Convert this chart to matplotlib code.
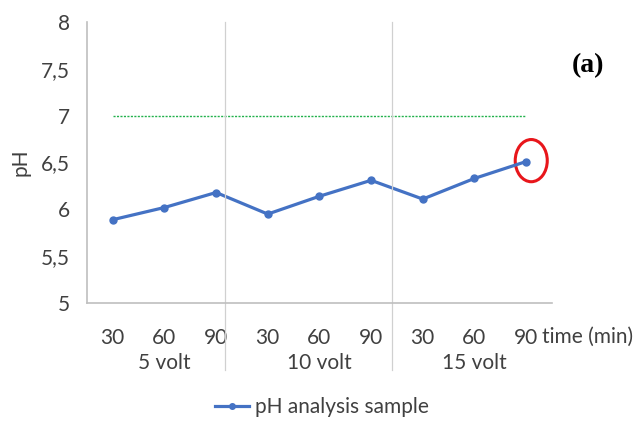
import matplotlib.pyplot as plt
from matplotlib.patches import Ellipse
from matplotlib.lines import Line2D

plt.rcParams['font.family'] = ['Lato', 'DejaVu Sans']

# data
time_labels = ['30', '60', '90', '30', '60', '90', '30', '60', '90']
voltage_groups = ['5 volt', '10 volt', '15 volt']
ph_values = [5.89, 6.02, 6.18, 5.95, 6.14, 6.31, 6.11, 6.33, 6.51]
neutral_ph = 7

blue = '#4472C4'
grey_txt = '#404040'
x = list(range(len(ph_values)))

fig = plt.figure(figsize=(6.44, 4.21), dpi=100)
ax = fig.add_axes([0.135, 0.280, 0.722, 0.668])

ax.plot(x, ph_values, color=blue, linewidth=2.3, marker='o', markersize=5,
        label='pH analysis sample')
ax.plot([x[0], x[-1]], [neutral_ph, neutral_ph], color='#22B14C',
        linestyle=(0, (1.5, 1)), linewidth=1.0)

ax.set_xlim(-0.5, 8.5)
ax.set_ylim(5, 8)
ax.set_yticks([5, 5.5, 6, 6.5, 7, 7.5, 8])
ax.set_yticklabels(['5', '5,5', '6', '6,5', '7', '7,5', '8'], fontsize=15)
ax.set_xticks(x)
ax.set_xticklabels(time_labels, fontsize=15)
ax.tick_params(axis='both', length=0, colors=grey_txt)
ax.tick_params(axis='x', pad=18)
ax.tick_params(axis='y', pad=12)
ax.set_ylabel('pH', fontsize=15, color=grey_txt)
ax.yaxis.set_label_coords(-0.122, 0.5)

for side in ['top', 'right']:
    ax.spines[side].set_visible(False)
for side in ['left', 'bottom']:
    ax.spines[side].set_color('#BFBFBF')
    ax.spines[side].set_linewidth(1.2)

# group separators, extended below the axis like Excel's multi-level labels
trans = ax.get_xaxis_transform()
for xs in [2.17, 5.4]:
    ax.add_line(Line2D([xs, xs], [-0.238, 1.0], transform=trans,
                       color='#D0D0D0', linewidth=0.9, clip_on=False))

for i, g in enumerate(voltage_groups):
    ax.text(3 * i + 1, -0.2135, g, transform=trans, ha='center', va='center',
            fontsize=15, color=grey_txt)

ax.text(8.3, -0.121, 'time (min)', transform=trans, ha='left', va='center',
        fontsize=15, color=grey_txt)

ax.add_patch(Ellipse((8.1, 6.52), 0.62, 0.45, fill=False, edgecolor='#E8161B',
                     linewidth=2.2, clip_on=False))

fig.text(0.913, 0.843, '(a)', fontsize=20, fontweight='bold',
         family='Liberation Serif', ha='center', va='center')

fig.legend(loc='center', bbox_to_anchor=(0.5, 0.033), frameon=False,
           fontsize=15, handlelength=1.6, handletextpad=0.3,
           labelcolor=grey_txt, markerscale=0.8, borderpad=0)

fig.savefig('out.png', dpi=100)
